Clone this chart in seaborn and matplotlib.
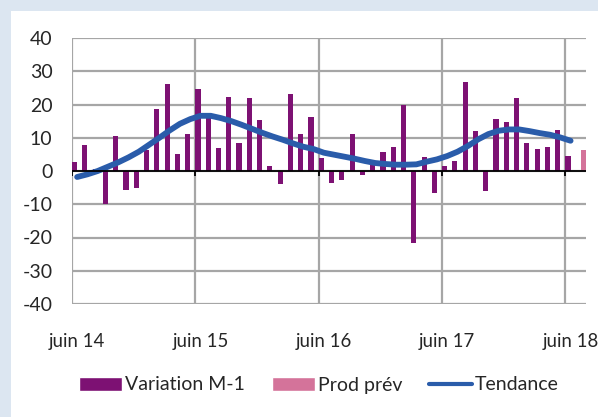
import matplotlib
matplotlib.use("Agg")
import matplotlib.pyplot as plt
from matplotlib.patches import Rectangle, Patch
from matplotlib.lines import Line2D
import seaborn as sns
import numpy as np
import pandas as pd

# monthly change, juin 14 .. juin 18 (49 months)
variation = [2.7, 7.7, 0.5, -10.0, 10.4, -5.8, -5.1, 6.4, 18.7, 26.3, 5.0, 11.2,
             24.7, 17.1, 6.9, 22.3, 8.4, 22.0, 15.2, 1.6, -3.9, 23.2, 11.0, 16.2,
             3.9, -3.5, -2.7, 11.2, -1.3, 2.2, 5.8, 7.3, 19.9, -21.7, 4.1, -6.5,
             1.5, 2.9, 26.8, 12.1, -5.9, 15.6, 14.6, 22.1, 8.3, 6.5, 7.2, 12.2,
             4.6]
# forecast for the following month (juillet 18)
prod_prev = [6.2]
# trend curve, juin 14 .. juin 18
tendance = [-1.8, -1.0, 0.0, 1.3, 2.6, 4.1, 5.8, 7.9, 10.0, 12.2, 14.2, 15.6,
            16.6, 16.6, 15.9, 15.0, 13.9, 12.7, 11.5, 10.4, 9.4, 8.3, 7.3, 6.6,
            5.5, 4.9, 4.3, 3.7, 3.0, 2.4, 2.1, 1.9, 1.9, 2.0, 2.8, 3.5,
            4.5, 5.8, 7.5, 9.5, 11.1, 12.1, 12.5, 12.5, 12.0, 11.4, 10.9, 10.1,
            9.1]
tick_labels = ["juin 14", "juin 15", "juin 16", "juin 17", "juin 18"]
y_ticks = [-40, -30, -20, -10, 0, 10, 20, 30, 40]

purple = "#7D1173"
pink = "#D4739A"
blue = "#2A5CAA"
grid_c = "#A6A6A6"

n_var = len(variation)
n_all = n_var + len(prod_prev)
df = pd.DataFrame({
    "mois": list(range(n_var)) + list(range(n_var, n_all)),
    "valeur": variation + prod_prev,
    "serie": ["Variation M-1"] * n_var + ["Prod prév"] * len(prod_prev),
})

sns.set_style("white")
plt.rcParams["font.family"] = ["Lato", "DejaVu Sans"]
plt.rcParams["axes.unicode_minus"] = False

fig = plt.figure(figsize=(5.98, 4.17), dpi=100)
fig.patch.set_facecolor("#DCE6F1")
fig.patches.append(Rectangle((10.5 / 598, 0), 1, 1 - 11 / 417, transform=fig.transFigure,
                             facecolor="white", edgecolor="none", zorder=-5))
ax = fig.add_axes([72 / 598, 1 - 304 / 417, (586 - 72) / 598, (304 - 38) / 417])
ax.set_facecolor("none")

sns.barplot(data=df, x="mois", y="valeur", hue="serie", order=list(range(n_all)),
            hue_order=["Variation M-1", "Prod prév"], palette=[purple, pink],
            width=1.0, dodge=True, gap=0, errorbar=None, legend=False, ax=ax,
            linewidth=0, saturation=1, zorder=3)
sns.lineplot(x=np.arange(len(tendance)), y=tendance, color=blue, linewidth=4.2,
             ax=ax, zorder=4)

ax.set_xlim(-0.5, n_all - 0.5)
ax.set_ylim(-40, 40)
for s in ax.spines.values():
    s.set_visible(False)

# gridlines
ax.set_yticks(y_ticks)
ax.set_yticklabels([str(v) for v in y_ticks])
for v in y_ticks:
    ax.axhline(v, color=grid_c, lw=1.6, zorder=1)
grid_x = [-0.5, 11.5, 23.5, 35.5, 47.5]
for gx in grid_x:
    ax.axvline(gx, color=grid_c, lw=1.6, zorder=1)
ax.axhline(0, color="black", lw=1.3, zorder=5)
ax.vlines(grid_x, -1.6, 0, color="black", lw=1.3, zorder=5)

ax.set_xticks([0, 12, 24, 36, 48])
ax.set_xticklabels(tick_labels)
ax.tick_params(axis="x", length=0, pad=21, labelsize=13.4)
ax.tick_params(axis="y", length=5, width=1.2, color=grid_c, pad=9, labelsize=14)
ax.set_xlabel("")
ax.set_ylabel("")

handles = [Patch(facecolor=purple, label="Variation M-1"),
           Patch(facecolor=pink, label="Prod prév"),
           Line2D([0], [0], color=blue, lw=3, label="Tendance")]
fig.legend(handles=handles, loc="center", bbox_to_anchor=(319 / 598, 1 - 385 / 417),
           ncol=3, frameon=False, fontsize=14, handlelength=2.2, handleheight=0.7,
           handletextpad=0.15, columnspacing=1.4)

fig.savefig("out.png", dpi=100)
